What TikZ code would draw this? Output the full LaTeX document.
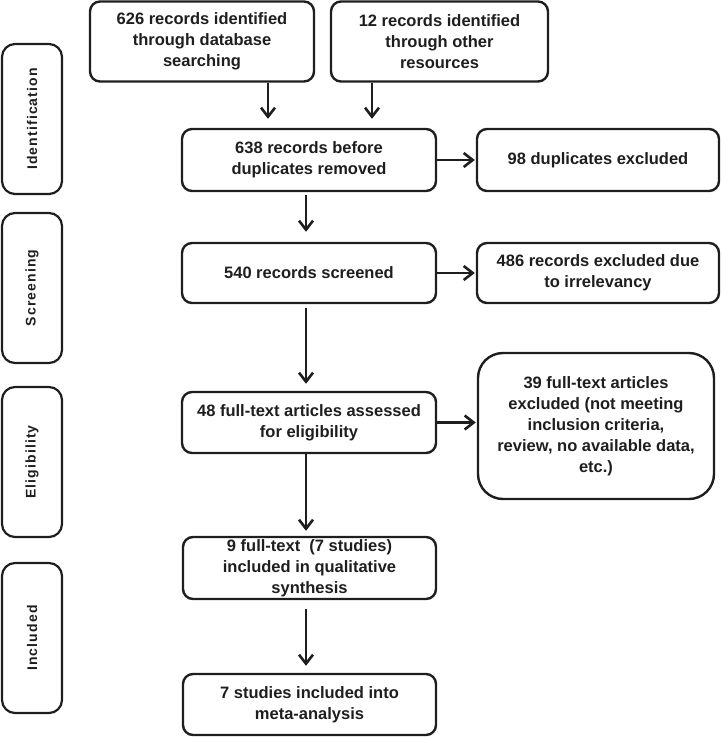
\documentclass[tikz,border=0pt]{standalone}
\usepackage{fontspec}
\setmainfont{Liberation Sans}
\newfontfamily\lblfont[LetterSpace=8]{Liberation Sans}
\usetikzlibrary{arrows.meta}
\definecolor{ink}{HTML}{1E1E1E}
\begin{document}
\begin{tikzpicture}[x=1pt,y=-1pt,
  box/.style={draw=ink, line width=2.4pt, rounded corners=10pt, align=center,
    font=\fontsize{16.5}{21}\selectfont\bfseries, text=ink, inner sep=0pt},
  sidelbl/.style={draw=ink, line width=2.2pt, rounded corners=13pt, rotate=90,
    minimum width=150pt, minimum height=60pt, inner sep=0pt,
    font=\lblfont\bfseries\fontsize{14}{16}\selectfont, text=ink},
  arr/.style={draw=ink, line width=2.6pt, -{Straight Barb[length=9pt,width=14pt]}}
]
\useasboundingbox (0,0) rectangle (721,737);

% side labels
\node[sidelbl] (L1) at (32,119) {Identification};
\node[sidelbl] (L2) at (32,288) {Screening};
\node[sidelbl] (L3) at (32,462) {Eligibility};
\node[sidelbl] (L4) at (32,638) {Included};

% boxes
\node[box, minimum width=224pt, minimum height=80pt] (A) at (202,41.5)
  {626 records identified\\through database\\searching};
\node[box, minimum width=217pt, minimum height=80pt] (B) at (439.5,41.5)
  {12 records identified\\through other\\resources};
\node[box, minimum width=254pt, minimum height=62pt] (C) at (309,160)
  {638 records before\\duplicates removed};
\node[box, minimum width=242pt, minimum height=62pt] (D) at (598,160)
  {98 duplicates excluded};
\node[box, minimum width=254pt, minimum height=60pt] (E) at (309,273)
  {540 records screened};
\node[box, minimum width=242pt, minimum height=60pt] (F) at (598,273)
  {486 records excluded due\\to irrelevancy};
\node[box, minimum width=254pt, minimum height=61pt] (G) at (309,422.5)
  {48 full-text articles assessed\\for eligibility};
\node[box, rounded corners=25pt, minimum width=236pt, minimum height=146pt] (H) at (596,426)
  {39 full-text articles\\excluded (not meeting\\inclusion criteria,\\review, no available data,\\etc.)};
\node[box, minimum width=253pt, minimum height=62pt] (I) at (309.5,568)
  {9 full-text\ \ (7 studies)\\included in qualitative\\synthesis};
\node[box, minimum width=253pt, minimum height=61pt] (J) at (309.5,704.5)
  {7 studies included into\\meta-analysis};

% connector columns
\coordinate (a1) at (268,0);
\coordinate (a2) at (372,0);
\coordinate (m) at (306,0);

\draw[arr, shorten >=9pt] (A.south -| a1) -- (C.north -| a1);
\draw[arr, shorten >=9pt] (B.south -| a2) -- (C.north -| a2);
\draw[arr, shorten >=1pt] (C.east) -- (D.west);
\draw[arr, shorten <=3pt, shorten >=10pt] (C.south -| m) -- (E.north -| m);
\draw[arr, shorten >=1pt] (E.east) -- (F.west);
\draw[arr, shorten <=4pt, shorten >=7pt] (E.south -| m) -- (G.north -| m);
\draw[arr, shorten >=1pt] (G.east) -- (G.east -| H.west);
\draw[arr, shorten >=5pt] (G.south -| m) -- (I.north -| m);
\draw[arr, shorten <=9pt, shorten >=7pt] (I.south -| m) -- (J.north -| m);
\end{tikzpicture}
\end{document}
